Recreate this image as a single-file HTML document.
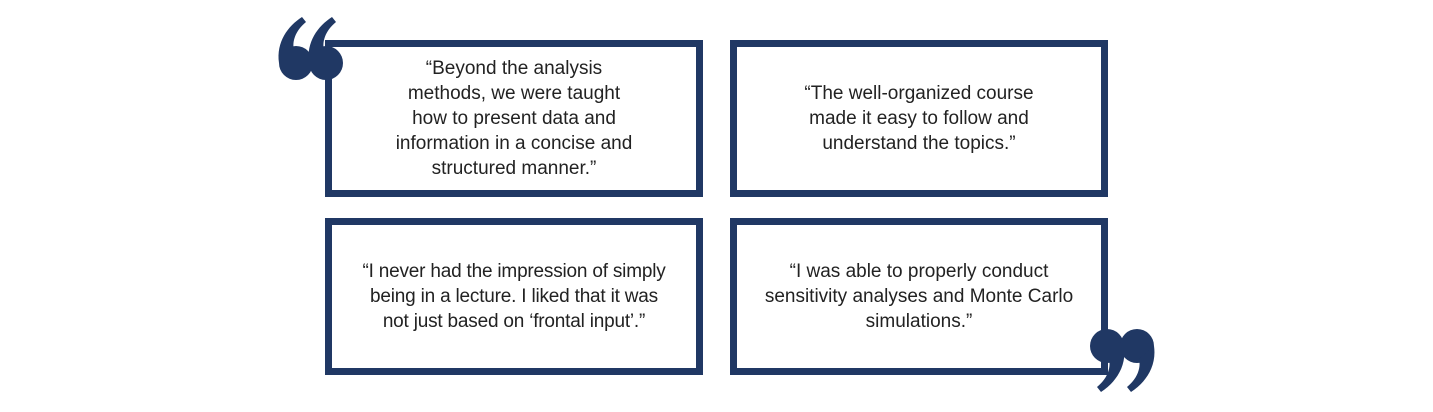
<!DOCTYPE html>
<html><head><style>
body{margin:0;width:1433px;height:412px;background:#fff;position:relative;overflow:hidden;font-family:"Liberation Sans",sans-serif}
.b{position:absolute;box-sizing:border-box;border:7px solid #203864;width:378px;height:157px;display:flex;align-items:center;justify-content:center;text-align:center;font-size:19px;line-height:25px;color:#222}
svg{position:absolute;left:0;top:0}
</style></head><body>
<div class="b" style="left:325px;top:40px"><div>“Beyond the analysis<br>methods, we were taught<br>how to present data and<br>information in a concise and<br>structured manner.”</div></div>
<div class="b" style="left:730px;top:40px"><div>“The well-organized course<br>made it easy to follow and<br>understand the topics.”</div></div>
<div class="b" style="left:325px;top:218px"><div style="letter-spacing:-0.2px">“I never had the impression of simply<br>being in a lecture. I liked that it was<br>not just based on ‘frontal input’.”</div></div>
<div class="b" style="left:730px;top:218px"><div>“I was able to properly conduct<br>sensitivity analyses and Monte Carlo<br>simulations.”</div></div>
<svg width="1433" height="412" fill="#203864">
<g>
<circle cx="296" cy="63" r="17"/><path d="M279 63 C276 42 288 26 302 17 L306 22 C295 31 292 42 294 50 Z"/>
<circle cx="326" cy="63" r="17"/><path d="M309 63 C306 42 318 26 332 17 L336 22 C325 31 322 42 324 50 Z"/>
</g>
<g>
<circle cx="1107" cy="346" r="17"/><path d="M1124 346 C1127 367 1115 383 1101 392 L1097 387 C1108 378 1111 367 1109 359 Z"/>
<circle cx="1137" cy="346" r="17"/><path d="M1154 346 C1157 367 1145 383 1131 392 L1127 387 C1138 378 1141 367 1139 359 Z"/>
</g>
</svg>
</body></html>
